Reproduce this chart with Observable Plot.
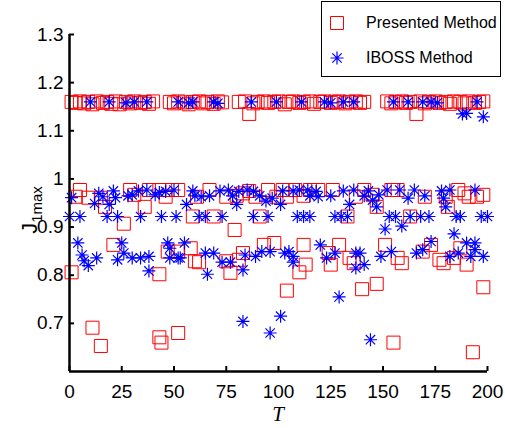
<!DOCTYPE html>
<html><head><meta charset="utf-8">
<script src="https://cdn.jsdelivr.net/npm/d3@7"></script>
<script src="https://cdn.jsdelivr.net/npm/@observablehq/plot@0.6"></script>
<style>
body{margin:0;background:#fff;}
#wrap{position:relative;width:505px;height:428px;font-family:"Liberation Sans",Arial,sans-serif;}
#legend{position:absolute;left:321px;top:1px;width:178px;height:74px;border:1px solid #000;background:#fff;}
#legend .t{position:absolute;left:44px;font-size:16px;line-height:16px;color:#000;white-space:nowrap;}
#legend svg{position:absolute;left:0;top:0;}
</style></head><body><div id="wrap"></div>
<script>
const seriesNames = ["Presented Method", "IBOSS Method"];
const seriesColors = ["#ff0000", "#0000ff"];
const xTicks = [0, 25, 50, 75, 100, 125, 150, 175, 200];
const yTicks = [0.7, 0.8, 0.9, 1, 1.1, 1.2, 1.3];

// Presented Method (red squares)
const redT = [
 1,3,5,7,9,11,13,16,18,20,22,24,27,29,31,34,36,38,40,48,50,52,55,57,59,62,64,66,69,71,73,81,84,86,88,90,93,95,98,100,103,105,107,110,112,115,117,120,122,125,127,129,132,134,137,139,141,152,154,156,159,161,163,166,168,170,172,175,177,180,182,184,187,189,191,194,196,198,
 3,5,9,15,17,29,31,36,38,43,46,49,52,61,67,75,80,83,86,89,95,99,102,104,108,112,115,119,126,137,141,145,147,154,157,170,180,181,186,189,191,195,198,
 59,69,91,133,163,26,79,
 1,21,43,47,52,58,60,62,75,77,81,83,93,98,110,112,113,124,125,129,134,136,151,157,159,169,173,177,179,184,187,190,
 11,15,43,44,52,104,140,147,155,193,198
];
const redJ = [
 1.160,1.158,1.161,1.157,1.160,1.155,1.161,1.158,1.160,1.156,1.161,1.155,1.160,1.157,1.161,1.158,1.160,1.156,1.161,1.160,1.157,1.161,1.159,1.155,1.160,1.161,1.157,1.160,1.156,1.161,1.159,1.160,1.161,1.135,1.157,1.160,1.161,1.158,1.160,1.161,1.155,1.160,1.161,1.158,1.160,1.161,1.156,1.160,1.161,1.158,1.160,1.161,1.157,1.160,1.161,1.158,1.160,1.161,1.157,1.160,1.161,1.158,1.160,1.135,1.161,1.157,1.160,1.161,1.158,1.160,1.156,1.161,1.160,1.157,1.161,1.158,1.160,1.161,
 0.963,0.977,0.961,0.961,0.942,0.977,0.967,0.942,0.977,0.977,0.963,0.977,0.977,0.963,0.977,0.963,0.965,0.970,0.975,0.963,0.977,0.963,0.977,0.963,0.977,0.965,0.977,0.977,0.977,0.963,0.977,0.967,0.942,0.977,0.977,0.963,0.963,0.942,0.977,0.970,0.963,0.963,0.967,
 0.922,0.922,0.922,0.922,0.922,0.907,0.894,
 0.806,0.863,0.802,0.849,0.849,0.856,0.829,0.827,0.829,0.805,0.832,0.846,0.863,0.867,0.806,0.863,0.822,0.846,0.822,0.863,0.836,0.825,0.863,0.836,0.825,0.849,0.863,0.832,0.825,0.836,0.856,0.822,
 0.691,0.653,0.671,0.660,0.680,0.768,0.771,0.782,0.660,0.640,0.775
];

// IBOSS Method (blue asterisks)
const blueT = [
 10,19,27,31,37,52,57,59,69,71,87,99,111,122,125,131,136,155,162,169,173,176,195,188,190,198,
 1,12,14,16,21,19,22,28,30,33,37,41,43,46,50,56,59,60,63,67,72,76,80,78,81,85,88,91,94,97,101,102,107,110,114,115,118,119,125,131,134,136,141,143,145,147,148,152,158,162,165,170,178,179,180,182,194,
 0,5,18,23,34,44,51,62,65,73,88,95,109,112,115,127,130,133,153,156,163,168,172,185,187,197,200,
 151,159,184,
 4,6,7,9,13,23,25,26,30,34,38,38,47,48,48,52,53,55,65,66,69,73,77,83,84,89,92,96,103,105,107,107,120,123,127,137,139,141,137,149,154,166,169,173,182,186,190,194,194,192,198,
 83,101,96,129,144
];
const blueJ = [
 1.160,1.160,1.158,1.160,1.160,1.160,1.158,1.160,1.160,1.157,1.160,1.160,1.160,1.160,1.158,1.160,1.160,1.160,1.160,1.160,1.160,1.158,1.160,1.135,1.136,1.129,
 0.961,0.949,0.970,0.963,0.975,0.947,0.961,0.965,0.967,0.975,0.977,0.967,0.972,0.974,0.977,0.947,0.975,0.965,0.963,0.965,0.975,0.977,0.947,0.965,0.974,0.977,0.974,0.965,0.954,0.960,0.947,0.975,0.975,0.977,0.977,0.965,0.974,0.963,0.965,0.975,0.947,0.977,0.965,0.975,0.956,0.942,0.967,0.977,0.977,0.960,0.977,0.965,0.975,0.960,0.942,0.977,0.977,
 0.922,0.922,0.922,0.922,0.922,0.922,0.922,0.922,0.922,0.922,0.922,0.922,0.922,0.922,0.922,0.922,0.922,0.922,0.922,0.922,0.922,0.922,0.922,0.922,0.922,0.922,0.922,
 0.896,0.902,0.886,
 0.867,0.842,0.830,0.820,0.836,0.832,0.867,0.846,0.836,0.836,0.839,0.809,0.867,0.856,0.836,0.836,0.836,0.867,0.846,0.802,0.846,0.827,0.827,0.811,0.842,0.839,0.849,0.849,0.846,0.849,0.839,0.827,0.863,0.836,0.846,0.846,0.846,0.822,0.815,0.839,0.849,0.846,0.853,0.870,0.839,0.846,0.867,0.867,0.853,0.839,0.839,
 0.704,0.715,0.680,0.755,0.666
];

const red = redT.map((t, i) => ({T: t, J: redJ[i]}));
const blue = blueT.map((t, i) => ({T: t, J: blueJ[i]}));

const squareSym = {draw(ctx, size) { const r = Math.sqrt(size / Math.PI); ctx.rect(-r, -r, 2 * r, 2 * r); }};
const starSym = {draw(ctx, size) {
  const r = Math.sqrt(size / Math.PI), d = r * 0.72;
  ctx.moveTo(-r, 0); ctx.lineTo(r, 0);
  ctx.moveTo(0, -r); ctx.lineTo(0, r);
  ctx.moveTo(-d, -d); ctx.lineTo(d, d);
  ctx.moveTo(-d, d); ctx.lineTo(d, -d);
}};

const chart = Plot.plot({
  width: 505, height: 428,
  marginLeft: 69, marginRight: 18, marginTop: 34, marginBottom: 57,
  style: {fontFamily: "'Liberation Sans', Arial, sans-serif", fontSize: "19px", color: "#000", background: "#fff", overflow: "visible"},
  x: {domain: [0, 200], label: null},
  y: {domain: [0.6, 1.3], label: null},
  marks: [
    Plot.dot(red, {x: "T", y: "J", symbol: squareSym, r: 6.5, stroke: seriesColors[0], strokeWidth: 1, fill: "none"}),
    Plot.dot(blue, {x: "T", y: "J", symbol: starSym, r: 6.5, stroke: seriesColors[1], strokeWidth: 1.2, fill: "none"}),
    Plot.ruleX([0], {stroke: "#000", strokeWidth: 2.5}),
    Plot.ruleY([0.6], {stroke: "#000", strokeWidth: 2.5}),
    Plot.axisX({ticks: xTicks, tickSize: -5, tickPadding: 18, strokeWidth: 2, tickFormat: d => String(d), fontSize: 19}),
    Plot.axisY({ticks: yTicks, tickSize: -5, tickPadding: 11, strokeWidth: 2, tickFormat: d => String(d), fontSize: 19})
  ]
});

const wrap = document.getElementById("wrap");
wrap.appendChild(chart);

const svg = d3.select(chart);
// y label J_1max
const yl = svg.append("text")
  .attr("transform", "translate(37,210) rotate(-90)")
  .attr("text-anchor", "middle")
  .attr("font-family", "'Liberation Sans', Arial, sans-serif")
  .attr("font-size", 22)
  .attr("fill", "#000");
yl.append("tspan").text("J");
yl.append("tspan").attr("font-size", 15).attr("dy", 5).text("1max");
// x label T
svg.append("text")
  .attr("x", 278).attr("y", 421)
  .attr("text-anchor", "middle")
  .attr("font-family", "'Liberation Serif', 'Times New Roman', serif")
  .attr("font-style", "italic")
  .attr("font-size", 21)
  .attr("fill", "#000")
  .text("T");

// legend
const leg = document.createElement("div");
leg.id = "legend";
const ls = d3.create("svg").attr("width", 178).attr("height", 74);
ls.append("path").attr("d", d3.symbol(squareSym, 6.5 * 6.5 * Math.PI)()).attr("transform", "translate(15,21)")
  .attr("fill", "none").attr("stroke", seriesColors[0]).attr("stroke-width", 1);
ls.append("path").attr("d", d3.symbol(starSym, 6.5 * 6.5 * Math.PI)()).attr("transform", "translate(15,56)")
  .attr("fill", "none").attr("stroke", seriesColors[1]).attr("stroke-width", 1.2);
leg.appendChild(ls.node());
seriesNames.forEach((n, i) => {
  const t = document.createElement("div");
  t.className = "t";
  t.style.top = (i === 0 ? 13 : 48) + "px";
  t.textContent = n;
  leg.appendChild(t);
});
wrap.appendChild(leg);
</script></body></html>
